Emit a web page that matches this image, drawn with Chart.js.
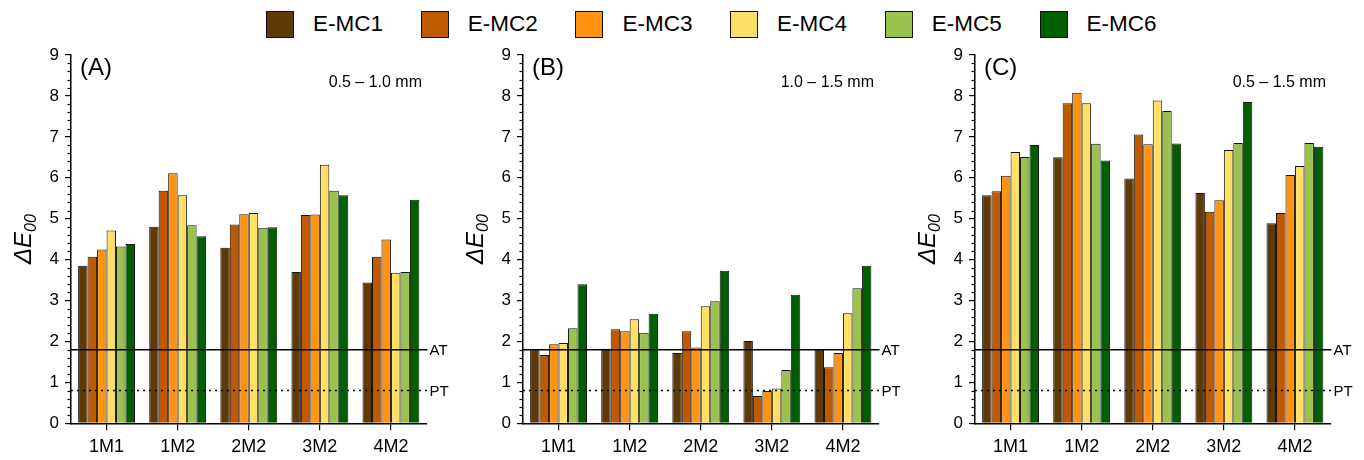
<!DOCTYPE html>
<html>
<head>
<meta charset="utf-8">
<script src="https://cdn.jsdelivr.net/npm/chart.js@4.4.1/dist/chart.umd.min.js"></script>
<style>
  html, body { margin: 0; padding: 0; background: #fff; }
  body { width: 1364px; height: 460px; position: relative; overflow: hidden; font-family: "Liberation Sans", Arial, sans-serif; }
  canvas { position: absolute; top: 0; }
  .lg-box { position: absolute; top: 11px; width: 26px; height: 25px; border: 1px solid #111; }
  .lg-txt { position: absolute; top: 10px; font-size: 22.5px; line-height: 28px; color: #000; white-space: nowrap; }
</style>
</head>
<body>
<div id="legend"></div>
<canvas id="cA" width="457" height="460" style="left:0px"></canvas>
<canvas id="cB" width="457" height="460" style="left:452px"></canvas>
<canvas id="cC" width="457" height="460" style="left:904px"></canvas>
<script>
// ---- data ----
const categories = ["1M1", "1M2", "2M2", "3M2", "4M2"];
const seriesNames = ["E-MC1", "E-MC2", "E-MC3", "E-MC4", "E-MC5", "E-MC6"];
const seriesColors = ["#603A06", "#BF5A00", "#FF9414", "#FFE066", "#9BC24C", "#005F00"];
const yTicks = [0, 1, 2, 3, 4, 5, 6, 7, 8, 9];
const thresholdAT = 1.8;
const thresholdPT = 0.8;

// Panel A: 0.5 – 1.0 mm
const A_EMC1 = [3.85, 4.80, 4.29, 3.70, 3.44];
const A_EMC2 = [4.07, 5.68, 4.86, 5.09, 4.07];
const A_EMC3 = [4.25, 6.11, 5.11, 5.10, 4.49];
const A_EMC4 = [4.71, 5.57, 5.14, 6.32, 3.68];
const A_EMC5 = [4.32, 4.84, 4.78, 5.68, 3.70];
const A_EMC6 = [4.38, 4.57, 4.79, 5.57, 5.46];
// Panel B: 1.0 – 1.5 mm
const B_EMC1 = [1.81, 1.82, 1.72, 2.01, 1.80];
const B_EMC2 = [1.67, 2.30, 2.25, 0.67, 1.37];
const B_EMC3 = [1.93, 2.25, 1.85, 0.79, 1.72];
const B_EMC4 = [1.96, 2.54, 2.86, 0.85, 2.69];
const B_EMC5 = [2.32, 2.21, 2.98, 1.30, 3.30];
const B_EMC6 = [3.40, 2.68, 3.73, 3.14, 3.85];
// Panel C: 0.5 – 1.5 mm
const C_EMC1 = [5.57, 6.50, 5.98, 5.63, 4.89];
const C_EMC2 = [5.67, 7.82, 7.06, 5.17, 5.14];
const C_EMC3 = [6.05, 8.08, 6.82, 5.45, 6.07];
const C_EMC4 = [6.63, 7.82, 7.89, 6.68, 6.29];
const C_EMC5 = [6.51, 6.83, 7.63, 6.85, 6.85];
const C_EMC6 = [6.80, 6.42, 6.84, 7.85, 6.76];

const panels = [
  { id: "cA", letter: "(A)", size: "0.5 \u2013 1.0 mm", series: [A_EMC1, A_EMC2, A_EMC3, A_EMC4, A_EMC5, A_EMC6] },
  { id: "cB", letter: "(B)", size: "1.0 \u2013 1.5 mm", series: [B_EMC1, B_EMC2, B_EMC3, B_EMC4, B_EMC5, B_EMC6] },
  { id: "cC", letter: "(C)", size: "0.5 \u2013 1.5 mm", series: [C_EMC1, C_EMC2, C_EMC3, C_EMC4, C_EMC5, C_EMC6] }
];

// ---- legend (HTML, real text) ----
const legend = document.getElementById("legend");
seriesNames.forEach((name, i) => {
  const x = 266 + i * 154.7;
  const b = document.createElement("div");
  b.className = "lg-box";
  b.style.left = x + "px";
  b.style.background = seriesColors[i];
  legend.appendChild(b);
  const t = document.createElement("div");
  t.className = "lg-txt";
  t.style.left = (x + 47) + "px";
  t.textContent = name;
  legend.appendChild(t);
});

const FONT = '"Liberation Sans", Arial, sans-serif';
const AXIS_W = 71;
const PLOT_TOP = 55;
const PLOT_BOTTOM = 423.3;
const PLOT_W = 355.5;

const decor = {
  id: "decor",
  afterDraw(chart, args, opts) {
    const ctx = chart.ctx;
    const ca = chart.chartArea;
    const y = chart.scales.y;
    ctx.save();
    // minor ticks every 0.2
    ctx.strokeStyle = "#000";
    ctx.lineWidth = 1.2;
    for (let k = 0; k <= 45; k++) {
      if (k % 5 === 0) continue;
      const py = Math.round(y.getPixelForValue(k * 0.2)) + 0.5;
      ctx.beginPath();
      ctx.moveTo(ca.left - 3.5, py);
      ctx.lineTo(ca.left, py);
      ctx.stroke();
    }
    // AT line
    const yAT = y.getPixelForValue(thresholdAT);
    ctx.lineWidth = 1.5;
    ctx.setLineDash([]);
    ctx.beginPath();
    ctx.moveTo(ca.left, yAT);
    ctx.lineTo(ca.right + 1, yAT);
    ctx.stroke();
    // PT line (dotted)
    const yPT = y.getPixelForValue(thresholdPT);
    ctx.setLineDash([2, 4]);
    ctx.beginPath();
    ctx.moveTo(ca.left, yPT);
    ctx.lineTo(ca.right + 1, yPT);
    ctx.stroke();
    ctx.setLineDash([]);
    ctx.fillStyle = "#000";
    ctx.font = "15px " + FONT;
    ctx.textAlign = "left";
    ctx.textBaseline = "middle";
    ctx.fillText("AT", ca.right + 3, yAT + 1);
    ctx.fillText("PT", ca.right + 3, yPT + 1);
    // panel letter
    ctx.font = "24px " + FONT;
    ctx.textBaseline = "alphabetic";
    ctx.fillText(opts.letter, ca.left + 9, 75);
    // size label
    ctx.font = "16px " + FONT;
    ctx.textAlign = "right";
    ctx.fillText(opts.size, ca.left + 351, 87);
    // y title: ΔE00 (italic, subscript 00)
    ctx.translate(ca.left - 48, (ca.top + ca.bottom) / 2);
    ctx.rotate(-Math.PI / 2);
    ctx.font = "italic 24px " + FONT;
    const w1 = ctx.measureText("\u0394E").width;
    ctx.font = "italic 16px " + FONT;
    const w2 = ctx.measureText("00").width;
    const total = w1 + w2;
    ctx.textAlign = "left";
    ctx.textBaseline = "alphabetic";
    ctx.font = "italic 24px " + FONT;
    ctx.fillText("\u0394E", -total / 2, 8);
    ctx.font = "italic 16px " + FONT;
    ctx.fillText("00", -total / 2 + w1, 13);
    ctx.restore();
  }
};

panels.forEach(p => {
  new Chart(document.getElementById(p.id), {
    type: "bar",
    data: {
      labels: categories,
      datasets: seriesNames.map((name, i) => ({
        label: name,
        data: p.series[i],
        backgroundColor: seriesColors[i],
        borderColor: "#151515",
        borderWidth: 1,
        barPercentage: 1.0,
        categoryPercentage: 0.8
      }))
    },
    options: {
      responsive: false,
      animation: false,
      devicePixelRatio: 1,
      layout: { padding: { top: PLOT_TOP, right: 457 - AXIS_W - PLOT_W, bottom: 0, left: 0 } },
      plugins: {
        legend: { display: false },
        tooltip: { enabled: false },
        decor: { letter: p.letter, size: p.size }
      },
      scales: {
        x: {
          afterFit: s => { s.height = 460 - PLOT_BOTTOM; },
          grid: { display: true, drawOnChartArea: false, drawTicks: true, tickLength: 7, color: "#000", lineWidth: 1.2, offset: false },
          border: { display: true, color: "#000", width: 1.5 },
          ticks: { color: "#000", font: { size: 18, family: FONT }, padding: 6, maxRotation: 0 }
        },
        y: {
          min: 0, max: 9,
          afterFit: s => { s.width = AXIS_W; },
          afterBuildTicks: s => { s.ticks = yTicks.map(v => ({ value: v })); },
          grid: { display: true, drawOnChartArea: false, drawTicks: true, tickLength: 6, color: "#000", lineWidth: 1.2 },
          border: { display: true, color: "#000", width: 1.5 },
          ticks: { color: "#000", font: { size: 17, family: FONT }, padding: 6 }
        }
      }
    },
    plugins: [decor]
  });
});
</script>
</body>
</html>
